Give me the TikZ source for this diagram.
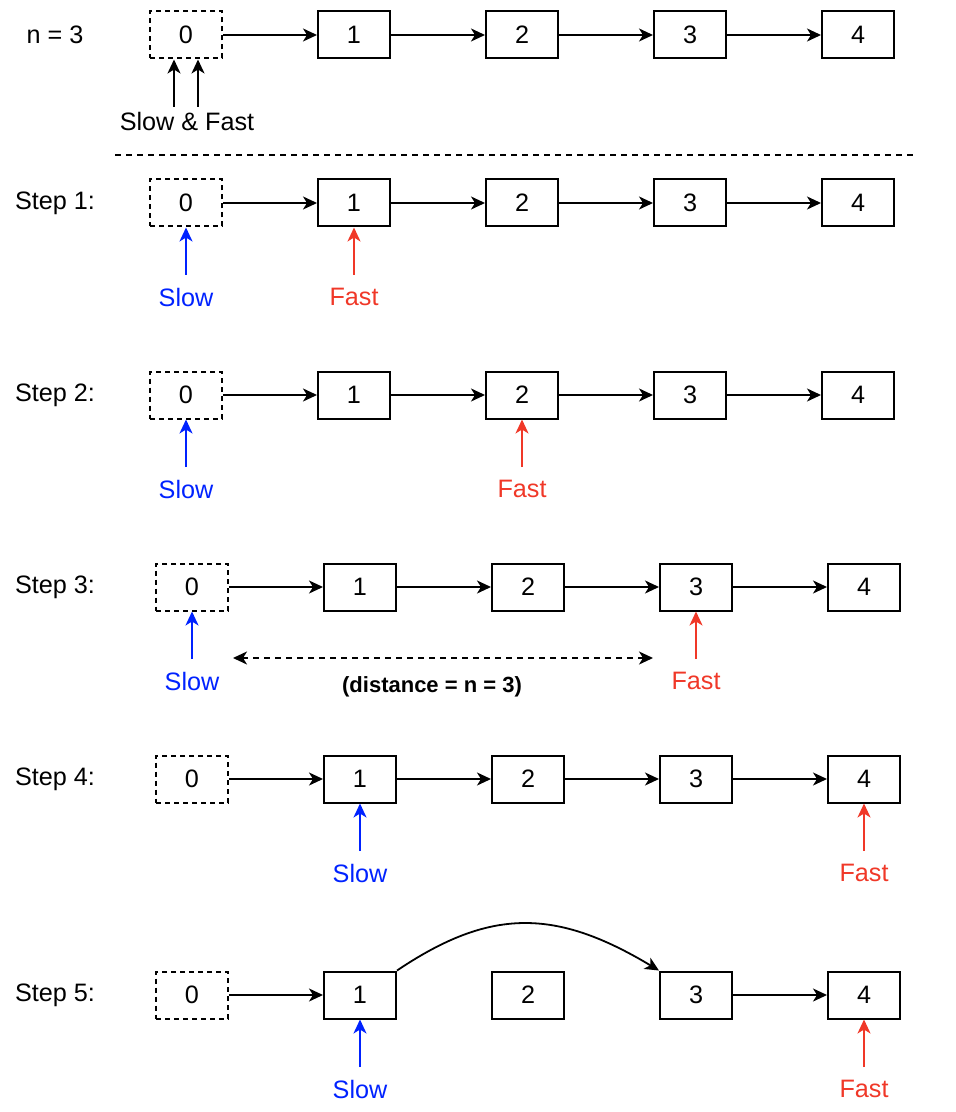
\documentclass[tikz,border=0pt]{standalone}
\usepackage{fontspec}
\setmainfont{Liberation Sans}
\usetikzlibrary{arrows.meta}
\definecolor{ptrblue}{RGB}{0,34,255}
\definecolor{ptrred}{RGB}{240,56,40}
\begin{document}
\begin{tikzpicture}[x=0.5pt,y=-0.5pt,
  every node/.style={font=\fontsize{12.6}{15}\selectfont},
  box/.style={draw,line width=1pt,minimum width=36pt,minimum height=23.5pt,inner sep=0pt},
  dbox/.style={box,dash pattern=on 2.5pt off 2pt},
  tip/.style={-{Stealth[length=7pt,width=6.5pt,inset=2pt]}},
  link/.style={line width=0.9pt,tip},
  slowptr/.style={link,ptrblue},
  fastptr/.style={link,ptrred},
  slowtxt/.style={text=ptrblue},
  fasttxt/.style={text=ptrred},
  steplbl/.style={},
]
\useasboundingbox (0,0) rectangle (956,1112);

% rows of boxes
\foreach \r/\y/\dx in {0/35/0,1/203/0,2/395/0,3/587/6,4/779/6,5/995/6}{
  \node[dbox] (b\r0) at (186+\dx,\y) {0};
  \foreach \i in {1,...,4}{
    \node[box] (b\r\i) at (186+\dx+168*\i,\y) {\i};
  }
}
% links
\foreach \r in {0,1,2,3,4}{
  \draw[link] (b\r0) -- (b\r1);
  \draw[link] (b\r1) -- (b\r2);
  \draw[link] (b\r2) -- (b\r3);
  \draw[link] (b\r3) -- (b\r4);
}
\draw[link] (b50) -- (b51);
\draw[link] (b53) -- (b54);
\draw[link] (b51.north east) .. controls (490,908) and (555,908) .. (b53.north west);

% row labels
\node[steplbl] (l0) at (55,35) {n = 3};
\node[steplbl] (l1) at (55,203) {Step 1:};
\node[steplbl] (l2) at (55,395) {Step 2:};
\node[steplbl] (l3) at (55,587) {Step 3:};
\node[steplbl] (l4) at (55,779) {Step 4:};
\node[steplbl] (l5) at (55,995) {Step 5:};

% row 0 pointers
\node (sf) at (187,121) {Slow \& Fast};
\coordinate (sfa) at (174,107);
\coordinate (sfb) at (198,107);
\draw[link] (sfa) -- (sfa |- b00.south);
\draw[link] (sfb) -- (sfb |- b00.south);

% separator
\coordinate (sepL) at (115,155);
\coordinate (sepR) at (915,155);
\draw[line width=0.9pt,dash pattern=on 3pt off 2.5pt] (sepL) -- (sepR);

% pointers for steps
\foreach \r/\sb/\fb/\ly in {1/0/1/297,2/0/2/489,3/0/3/681,4/1/4/873,5/1/4/1089}{
  \node[slowtxt] (slow\r) at (b\r\sb |- 1,\ly) {Slow};
  \node[fasttxt] (fast\r) at (b\r\fb |- 1,\ly) {Fast};
  \coordinate (sa\r) at (b\r\sb |- 0,\ly-22);
  \coordinate (fa\r) at (b\r\fb |- 0,\ly-22);
  \draw[slowptr] (sa\r) -- (b\r\sb.south);
  \draw[fastptr] (fa\r) -- (b\r\fb.south);
}

% distance
\coordinate (dL) at (233,658);
\coordinate (dR) at (653,658);
\draw[line width=0.9pt,dash pattern=on 3pt off 2.5pt,{Stealth[length=7pt,width=6.5pt,inset=2pt]}-{Stealth[length=7pt,width=6.5pt,inset=2pt]}] (dL) -- (dR);
\node[font=\fontsize{11}{13}\selectfont\bfseries] (dist) at (432,687) {(distance = n = 3)};
\end{tikzpicture}
\end{document}
